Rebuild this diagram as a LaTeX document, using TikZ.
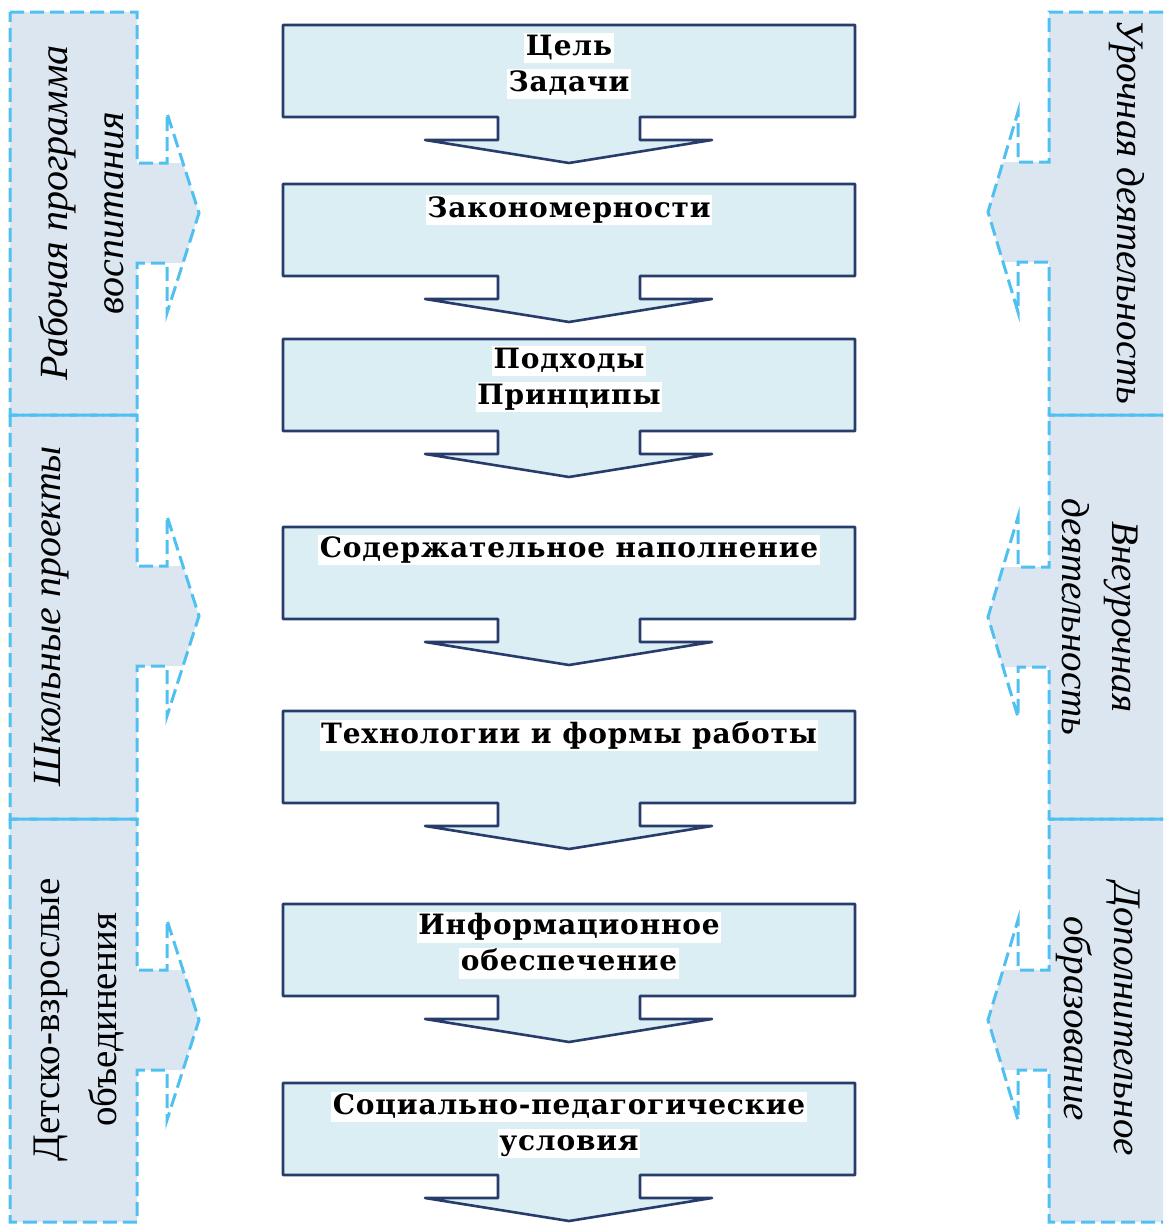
\documentclass[tikz,border=0pt]{standalone}
\usepackage{fontspec}
\setmainfont{Liberation Serif}
\newfontfamily\boxfont{DejaVu Serif}[LetterSpace=3]
\usepackage{tikz}
\definecolor{boxfill}{RGB}{219,238,244}
\definecolor{boxline}{RGB}{40,60,108}
\definecolor{panelfill}{RGB}{220,230,241}
\definecolor{paneldash}{RGB}{80,192,240}
\newcommand{\hl}[1]{{\setlength{\fboxsep}{1.5pt}\colorbox{white}{\vphantom{Фу}#1}}}
\tikzset{
	stage/.style={fill=boxfill, draw=boxline, line width=2.6pt, line join=round},
	stagetext/.style={anchor=north, align=center, inner sep=0pt, font=\boxfont\bfseries\fontsize{28}{36}\selectfont},
	panel/.style={fill=panelfill},
	paneledge/.style={draw=paneldash, line width=3pt, dash pattern=on 14pt off 6pt},
	lefttext/.style={align=center, inner sep=0pt, rotate=90, font=\itshape\fontsize{40}{56}\selectfont},
	righttext/.style={align=center, inner sep=0pt, rotate=-90, font=\itshape\fontsize{39}{50}\selectfont},
}

\begin{document}
\begin{tikzpicture}[x=1pt,y=-1pt]
	\useasboundingbox (0,0) rectangle (1163,1232);
	\fill[panel] (10,12) -- (137,12) -- (137,163) -- (183,163) -- (199,213) -- (183,263) -- (137,263) -- (137,415) -- (10,415) -- cycle;
	\fill[panel] (10,415) -- (137,415) -- (137,566) -- (183,566) -- (199,616) -- (183,666) -- (137,666) -- (137,819) -- (10,819) -- cycle;
	\fill[panel] (10,819) -- (137,819) -- (137,970) -- (183,970) -- (199,1020) -- (183,1070) -- (137,1070) -- (137,1222) -- (10,1222) -- cycle;
	\draw[paneledge] (10,12) -- (137,12) -- (137,163) -- (167,163) -- (167,113) -- (199,213) -- (167,313) -- (167,263) -- (137,263) -- (137,415) -- (10,415) -- cycle;
	\draw[paneledge] (10,415) -- (137,415) -- (137,566) -- (167,566) -- (167,516) -- (199,616) -- (167,716) -- (167,666) -- (137,666) -- (137,819) -- (10,819) -- cycle;
	\draw[paneledge] (10,819) -- (137,819) -- (137,970) -- (167,970) -- (167,920) -- (199,1020) -- (167,1120) -- (167,1070) -- (137,1070) -- (137,1222) -- (10,1222) -- cycle;
	\fill[panel] (1163,12) -- (1049,12) -- (1049,162) -- (1003,162) -- (988,212) -- (1003,262) -- (1049,262) -- (1049,415) -- (1163,415) -- cycle;
	\fill[panel] (1163,415) -- (1049,415) -- (1049,567) -- (1003,567) -- (988,617) -- (1003,667) -- (1049,667) -- (1049,819) -- (1163,819) -- cycle;
	\fill[panel] (1163,819) -- (1049,819) -- (1049,970) -- (1003,970) -- (988,1020) -- (1003,1070) -- (1049,1070) -- (1049,1222) -- (1163,1222) -- cycle;
	\draw[paneledge] (1163,12) -- (1049,12) -- (1049,162) -- (1018,162) -- (1018,112) -- (988,212) -- (1018,312) -- (1018,262) -- (1049,262) -- (1049,415) -- (1163,415);
	\draw[paneledge] (1163,415) -- (1049,415) -- (1049,567) -- (1018,567) -- (1018,517) -- (988,617) -- (1018,717) -- (1018,667) -- (1049,667) -- (1049,819) -- (1163,819);
	\draw[paneledge] (1163,819) -- (1049,819) -- (1049,970) -- (1018,970) -- (1018,920) -- (988,1020) -- (1018,1120) -- (1018,1070) -- (1049,1070) -- (1049,1222) -- (1163,1222);
	\draw[stage] (283,25) -- ++(572,0) -- ++(0,92) -- ++(-215,0) -- ++(0,23) -- ++(72,0) -- ++(-143,23) -- ++(-144,-23) -- ++(73,0) -- ++(0,-23) -- ++(-215,0) -- cycle;
	\draw[stage] (283,184) -- ++(572,0) -- ++(0,92) -- ++(-215,0) -- ++(0,23) -- ++(72,0) -- ++(-143,23) -- ++(-144,-23) -- ++(73,0) -- ++(0,-23) -- ++(-215,0) -- cycle;
	\draw[stage] (283,339) -- ++(572,0) -- ++(0,92) -- ++(-215,0) -- ++(0,23) -- ++(72,0) -- ++(-143,23) -- ++(-144,-23) -- ++(73,0) -- ++(0,-23) -- ++(-215,0) -- cycle;
	\draw[stage] (283,527) -- ++(572,0) -- ++(0,92) -- ++(-215,0) -- ++(0,23) -- ++(72,0) -- ++(-143,23) -- ++(-144,-23) -- ++(73,0) -- ++(0,-23) -- ++(-215,0) -- cycle;
	\draw[stage] (283,711) -- ++(572,0) -- ++(0,92) -- ++(-215,0) -- ++(0,23) -- ++(72,0) -- ++(-143,23) -- ++(-144,-23) -- ++(73,0) -- ++(0,-23) -- ++(-215,0) -- cycle;
	\draw[stage] (283,904) -- ++(572,0) -- ++(0,92) -- ++(-215,0) -- ++(0,23) -- ++(72,0) -- ++(-143,23) -- ++(-144,-23) -- ++(73,0) -- ++(0,-23) -- ++(-215,0) -- cycle;
	\draw[stage] (283,1083) -- ++(572,0) -- ++(0,92) -- ++(-215,0) -- ++(0,23) -- ++(72,0) -- ++(-143,23) -- ++(-144,-23) -- ++(73,0) -- ++(0,-23) -- ++(-215,0) -- cycle;
	\node[stagetext] (aim) at (569,33) {\hl{Цель}\\\hl{Задачи}};
	\node[stagetext] (laws) at (569,195) {\hl{Закономерности}};
	\node[stagetext] (approach) at (569,346) {\hl{Подходы}\\\hl{Принципы}};
	\node[stagetext] (content) at (569,535) {\hl{Содержательное наполнение}};
	\node[stagetext] (tech) at (569,720) {\hl{Технологии и формы работы}};
	\node[stagetext] (info) at (569,912) {\hl{Информационное}\\\hl{обеспечение}};
	\node[stagetext] (cond) at (569,1092) {\hl{Социально-педагогические}\\\hl{условия}};
	\node[lefttext] (program) at (81,213) {Рабочая программа\\воспитания};
	\node[lefttext] (projects) at (52,616) {Школьные проекты};
	\node[lefttext, font=\upshape\fontsize{39}{57}\selectfont] (unions) at (79,1020) {Детско-взрослые\\объединения};
	\node[righttext] (lesson) at (1127,212) {Урочная деятельность};
	\node[righttext] (extra) at (1100,617) {Внеурочная\\деятельность};
	\node[righttext] (further) at (1098,1019) {Дополнительное\\образование};
\end{tikzpicture}
\end{document}
